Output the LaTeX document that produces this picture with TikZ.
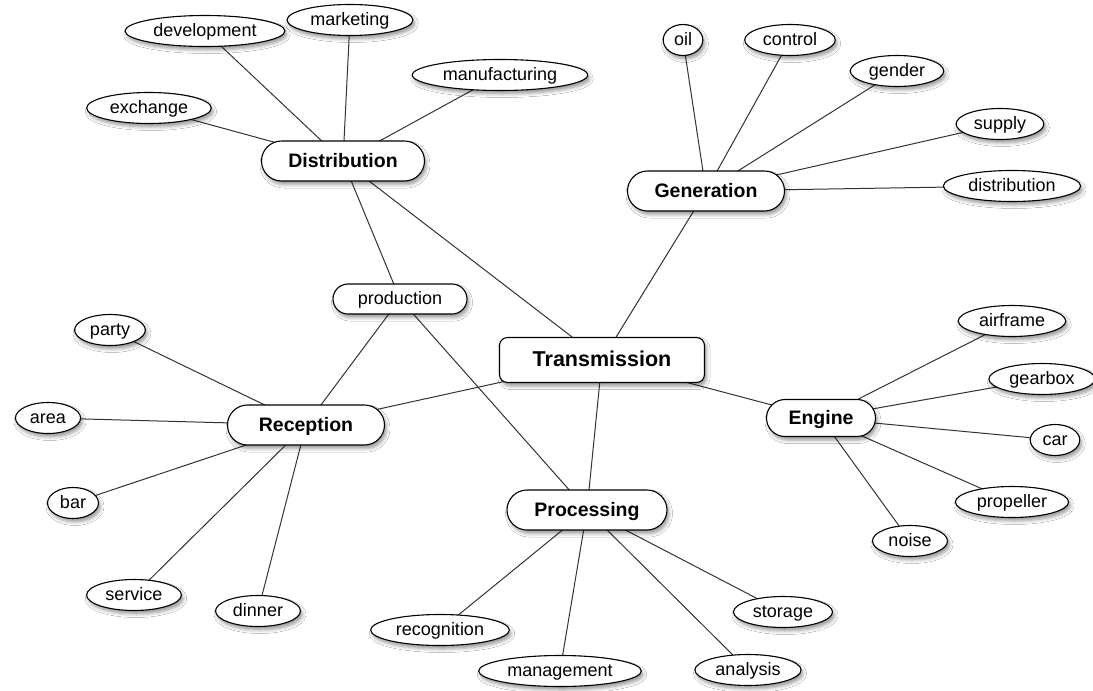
\documentclass[tikz,border=0pt]{standalone}
\usepackage{fontspec}
\setmainfont{Liberation Sans}
\usetikzlibrary{shapes.geometric,shadows.blur,backgrounds}
\begin{document}
\begin{tikzpicture}[x=1pt,y=-1pt,
  shad/.style={blur shadow={shadow xshift=2pt, shadow yshift=-3.5pt, shadow blur radius=3.5pt, shadow opacity=40}},
  leaf/.style={ellipse, draw=black, line width=1.1pt, fill=white, shad,
    font=\fontsize{18}{18}\selectfont, inner xsep=5pt, inner ysep=0pt,
    minimum height=31pt, text height=13.5pt, text depth=2.5pt},
  hub/.style={rectangle, rounded corners=20pt, draw=black, line width=1.1pt, fill=white, shad,
    font=\bfseries\fontsize{19.5}{20}\selectfont, minimum height=40pt,
    text height=15pt, text depth=3pt},
  mid/.style={rectangle, rounded corners=15pt, draw=black, line width=1.1pt, fill=white, shad,
    font=\fontsize{18}{18}\selectfont, minimum height=30pt, minimum width=134pt,
    text height=13.5pt, text depth=2.5pt},
  root/.style={rectangle, rounded corners=8pt, draw=black, line width=1.1pt, fill=white, shad,
    font=\bfseries\fontsize{21.5}{22}\selectfont, minimum height=45pt, minimum width=205pt,
    text height=16.5pt, text depth=3pt},
  link/.style={draw=black!80, line width=1pt}]
\useasboundingbox (0,0) rectangle (1093,691);

\node[root] (trans) at (602,360) {Transmission};
\node[hub, minimum width=163pt] (dist) at (343,161) {Distribution};
\node[hub, minimum width=157pt] (gen) at (706,191) {Generation};
\node[hub, minimum width=157pt] (rec) at (306,425) {Reception};
\node[hub, minimum width=160pt] (proc) at (587,510) {Processing};
\node[hub, minimum width=109pt, minimum height=37pt, rounded corners=18.5pt] (eng) at (821,418) {Engine};
\node[mid] (prod) at (400,299) {production};

\node[leaf] (devel) at (205,31) {development};
\node[leaf] (market) at (350,20) {marketing};
\node[leaf] (manuf) at (500,75) {manufacturing};
\node[leaf] (exch) at (149,108) {exchange};

\node[leaf] (oil) at (683,40) {oil};
\node[leaf] (control) at (790,40) {control};
\node[leaf] (gender) at (897,71) {gender};
\node[leaf] (supply) at (1000,124) {supply};
\node[leaf] (distr) at (1012,186) {distribution};

\node[leaf] (airframe) at (1012,321) {airframe};
\node[leaf] (gearbox) at (1042,379) {gearbox};
\node[leaf] (car) at (1055,440) {car};
\node[leaf] (propeller) at (1012,502) {propeller};
\node[leaf] (noise) at (910,541) {noise};

\node[leaf] (storage) at (783,612) {storage};
\node[leaf] (analysis) at (748,670) {analysis};
\node[leaf] (manage) at (560,671) {management};
\node[leaf] (recog) at (440,630) {recognition};

\node[leaf] (dinner) at (258,611) {dinner};
\node[leaf] (service) at (134,595) {service};
\node[leaf] (bar) at (73,503) {bar};
\node[leaf] (area) at (48,418) {area};
\node[leaf] (party) at (110,330) {party};

\begin{pgfonlayer}{background}
\fill[white] (0,0) rectangle (1093,691);
\foreach \a/\b in {trans/dist, trans/gen, trans/rec, trans/proc, trans/eng,
  prod/dist, prod/rec, prod/proc,
  dist/devel, dist/market, dist/manuf, dist/exch,
  gen/oil, gen/control, gen/gender, gen/supply, gen/distr,
  eng/airframe, eng/gearbox, eng/car, eng/propeller, eng/noise,
  proc/storage, proc/analysis, proc/manage, proc/recog,
  rec/dinner, rec/service, rec/bar, rec/area, rec/party}
  \draw[link] (\a.center) -- (\b.center);
\end{pgfonlayer}
\end{tikzpicture}
\end{document}
